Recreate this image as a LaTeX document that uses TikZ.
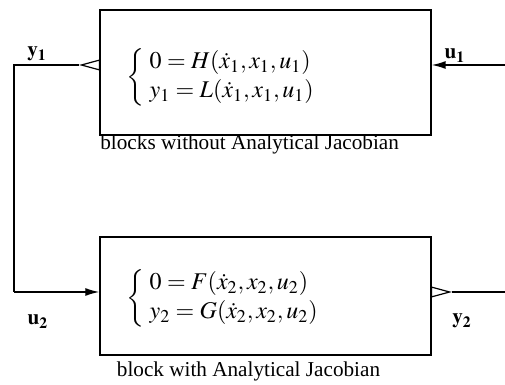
\documentclass[tikz,border=0pt]{standalone}
\usepackage{mathptmx}
\usepackage[no-math]{fontspec}
\setmainfont{Liberation Serif}
\usetikzlibrary{arrows.meta}
\begin{document}
\begin{tikzpicture}[x=0.5pt,y=-0.5pt,
  every node/.style={font=\fontsize{10.6}{13}\selectfont},
  eq/.style={anchor=west,inner sep=0pt,font=\fontsize{12}{14.5}\selectfont},
  block/.style={draw,line width=0.7pt,minimum width=165.5pt,inner sep=0pt},
  wire/.style={line width=0.7pt},
  lbl/.style={inner sep=0pt,anchor=base},
  openhead/.style={-{Triangle[open,length=10.5pt,width=5.5pt,line width=0.6pt]}},
  fillhead/.style={-{Latex[length=7pt,width=4pt]}}]
\useasboundingbox (0,0) rectangle (505,385);
% blocks
\node[block,minimum height=62.5pt] (b1) at (265.5,72.5) {};
\node[block,minimum height=59pt] (b2) at (265.5,296) {};
% equations
\node[eq] (e1) at (126,77)
  {$\left\{\begin{array}{@{\;}l}0=H(\dot{x}_1,x_1,u_1)\\ y_1=L(\dot{x}_1,x_1,u_1)\end{array}\right.$};
\node[eq] (e2) at (126,298)
  {$\left\{\begin{array}{@{\;}l}0=F(\dot{x}_2,x_2,u_2)\\ y_2=G(\dot{x}_2,x_2,u_2)\end{array}\right.$};
% captions
\node[anchor=base west,inner sep=0pt] (c1) at (100,150) {blocks without Analytical Jacobian};
\node[anchor=base,inner sep=0pt] (c2) at (248.5,377) {block with Analytical Jacobian};
% coordinates
\coordinate (y1tip) at (79,65);
\coordinate (k1) at (14,65);
\coordinate (k2) at (14,292);
\coordinate (u1end) at (505,65);
\coordinate (y2tip) at (452,292);
\coordinate (y2end) at (505,292);
% wires
\draw[wire,openhead] (b1.west |- k1) -- (y1tip);
\draw[wire] (y1tip) -- (k1) -- (k2);
\draw[wire,fillhead] (k2) -- (b2.west |- k2);
\draw[wire,fillhead] (u1end) -- (b1.east |- u1end);
\draw[wire,openhead] (b2.east |- y2end) -- (y2tip);
\draw[wire] (y2tip) -- (y2end);
% labels
\node[lbl] (ly1) at (37,57) {$\mathbf{y_1}$};
\node[lbl] (lu1) at (455,59) {$\mathbf{u_1}$};
\node[lbl] (lu2) at (38,325) {$\mathbf{u_2}$};
\node[lbl] (ly2) at (462,324) {$\mathbf{y_2}$};
\end{tikzpicture}
\end{document}
